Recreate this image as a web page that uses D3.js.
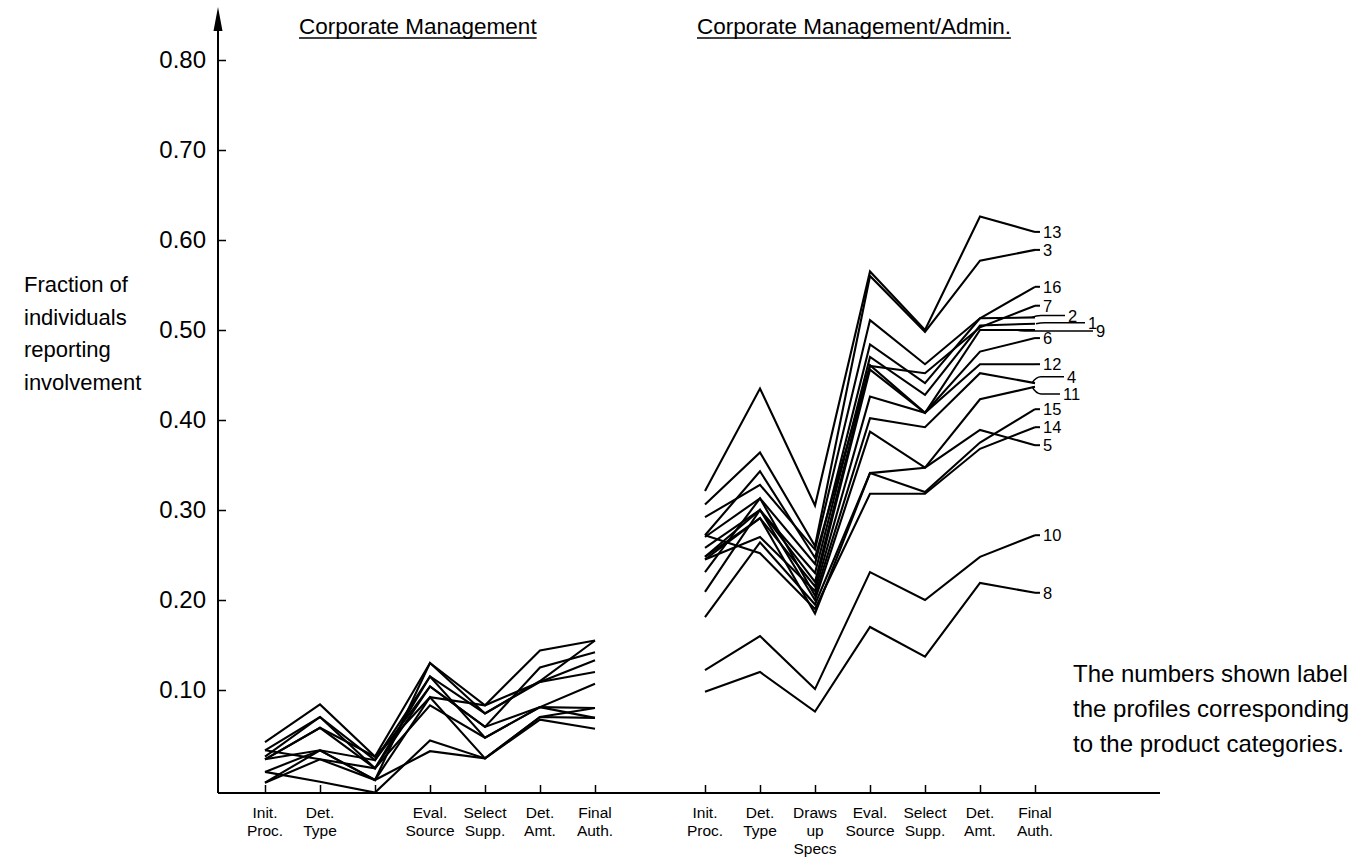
<!DOCTYPE html>
<html>
<head>
<meta charset="utf-8">
<script src="https://cdn.jsdelivr.net/npm/d3@7"></script>
<style>
  body { margin: 0; background: #fff; }
  svg { font-family: "Liberation Sans", Arial, sans-serif; }
</style>
</head>
<body>
<svg width="1369" height="867"></svg>
<script>
// stage names, '|' splits the lines of a label
const leftStages = ['Init.|Proc.', 'Det.|Type', '', 'Eval.|Source', 'Select|Supp.', 'Det.|Amt.', 'Final|Auth.'];
const rightStages = ['Init.|Proc.', 'Det.|Type', 'Draws|up|Specs', 'Eval.|Source', 'Select|Supp.', 'Det.|Amt.', 'Final|Auth.'];
const yTicks = [0.1, 0.2, 0.3, 0.4, 0.5, 0.6, 0.7, 0.8];

// Corporate Management (unlabelled profiles)
const leftProfiles = [
  [0.042, 0.084, 0.026, 0.130, 0.083, 0.144, 0.155],
  [0.033, 0.070, 0.022, 0.115, 0.074, 0.110, 0.155],
  [0.023, 0.058, 0.013, 0.104, 0.059, 0.125, 0.142],
  [0.023, 0.058, 0.026, 0.092, 0.083, 0.109, 0.133],
  [0.009, 0.033, 0.000, 0.130, 0.074, 0.109, 0.120],
  [0.033, 0.023, 0.013, 0.083, 0.047, 0.081, 0.107],
  [0.023, 0.033, 0.000, 0.092, 0.024, 0.070, 0.080],
  [-0.003, 0.033, 0.022, 0.104, 0.059, 0.081, 0.080],
  [0.009, -0.002, -0.014, 0.044, 0.024, 0.070, 0.069],
  [-0.003, 0.023, 0.000, 0.032, 0.024, 0.067, 0.057],
  [0.026, 0.070, 0.013, 0.115, 0.047, 0.081, 0.069]
];

// Corporate Management/Admin. (product category profiles)
const rightIds = ['13', '3', '16', '7', '2', '1', '9', '6', '12', '4', '11', '15', '14', '5', '10', '8'];
const rightProfiles = [
  [0.321, 0.435, 0.305, 0.565, 0.500, 0.626, 0.609],
  [0.306, 0.364, 0.260, 0.560, 0.498, 0.577, 0.589],
  [0.292, 0.328, 0.256, 0.511, 0.462, 0.513, 0.548],
  [0.272, 0.343, 0.247, 0.460, 0.452, 0.503, 0.527],
  [0.270, 0.313, 0.240, 0.484, 0.441, 0.513, 0.514],
  [0.258, 0.300, 0.230, 0.470, 0.428, 0.505, 0.507],
  [0.248, 0.300, 0.220, 0.461, 0.408, 0.500, 0.500],
  [0.248, 0.291, 0.215, 0.456, 0.408, 0.476, 0.491],
  [0.245, 0.270, 0.210, 0.426, 0.408, 0.462, 0.462],
  [0.231, 0.313, 0.205, 0.402, 0.392, 0.452, 0.441],
  [0.209, 0.300, 0.200, 0.387, 0.347, 0.423, 0.437],
  [0.181, 0.264, 0.195, 0.341, 0.320, 0.375, 0.412],
  [0.272, 0.252, 0.190, 0.318, 0.318, 0.368, 0.392],
  [0.245, 0.291, 0.185, 0.341, 0.347, 0.389, 0.372],
  [0.122, 0.160, 0.101, 0.231, 0.200, 0.248, 0.272],
  [0.098, 0.120, 0.076, 0.170, 0.137, 0.219, 0.208]
];

// labels that sit off their line end, joined by a short leader
const labelLeaders = {
  '2': { v: 0.516, from: 1036, to: 1065 },
  '1': { v: 0.508, from: 1040, to: 1085 },
  '9': { v: 0.499, from: 1020, to: 1093 },
  '4': { v: 0.448, from: 1036, to: 1064 },
  '11': { v: 0.429, from: 1036, to: 1060 }
};

const svg = d3.select('svg');
const x = d3.scaleLinear().domain([0, 14]).range([265, 1035]);
const y = d3.scaleLinear().domain([0, 0.8]).range([780, 60]);
const axisX = 218;
const baseY = 793;
const leftOffset = 0;
const rightOffset = 8;

// axes
svg.append('line')
  .attr('x1', axisX).attr('x2', axisX)
  .attr('y1', baseY).attr('y2', 24)
  .attr('stroke', '#000').attr('stroke-width', 2);
svg.append('path')
  .attr('d', `M${axisX},7 L${axisX - 4.5},31 L${axisX + 4.5},31 Z`)
  .attr('fill', '#000');
svg.append('line')
  .attr('x1', axisX).attr('x2', 1160)
  .attr('y1', baseY).attr('y2', baseY)
  .attr('stroke', '#000').attr('stroke-width', 2);

const yAxis = svg.append('g')
  .attr('transform', `translate(${axisX},0)`)
  .call(d3.axisLeft(y).tickValues(yTicks).tickFormat(d3.format('.2f'))
    .tickSizeInner(-8).tickSizeOuter(0).tickPadding(12));
yAxis.select('.domain').remove();
yAxis.selectAll('line').attr('stroke-width', 1.5);
yAxis.selectAll('text')
  .attr('font-size', 24)
  .attr('font-family', '"Liberation Sans", Arial, sans-serif')
  .attr('fill', '#000');

const stagePos = d3.range(7).map(i => i + leftOffset).concat(d3.range(7).map(i => i + rightOffset));
const xAxis = svg.append('g')
  .attr('transform', `translate(0,${baseY})`)
  .call(d3.axisBottom(x).tickValues(stagePos).tickFormat('')
    .tickSizeInner(-8).tickSizeOuter(0));
xAxis.select('.domain').remove();
xAxis.selectAll('line').attr('stroke-width', 1.5);

const stageLabels = leftStages.map((s, i) => ({ s, p: i + leftOffset }))
  .concat(rightStages.map((s, i) => ({ s, p: i + rightOffset })));
const labelG = svg.append('g').attr('font-size', 15.5).attr('text-anchor', 'middle');
stageLabels.forEach((d) => {
  const t = labelG.append('text').attr('x', x(d.p)).attr('y', 818);
  d.s.split('|').filter(s => s).forEach((line, i) => {
    t.append('tspan').attr('x', x(d.p)).attr('dy', i === 0 ? 0 : 18).text(line);
  });
});

// profiles
const line = offset => d3.line().x((d, i) => x(offset + i)).y(d => y(d));

svg.append('g')
  .selectAll('path')
  .data(leftProfiles)
  .join('path')
  .attr('d', line(leftOffset))
  .attr('fill', 'none')
  .attr('stroke', '#000')
  .attr('stroke-width', 2.1);

svg.append('g')
  .selectAll('path')
  .data(rightProfiles)
  .join('path')
  .attr('d', line(rightOffset))
  .attr('fill', 'none')
  .attr('stroke', '#000')
  .attr('stroke-width', 2.1);

// profile numbers
const numG = svg.append('g').attr('font-size', 16.5);
rightProfiles.forEach((vals, i) => {
  const id = rightIds[i];
  const endX = x(rightOffset + 6);
  const endV = vals[6];
  const lead = labelLeaders[id];
  if (lead) {
    svg.append('path')
      .attr('d', `M${lead.from - 4},${y(endV)} Q${lead.from},${y(lead.v)} ${lead.from + 5},${y(lead.v)} L${lead.to},${y(lead.v)}`)
      .attr('fill', 'none')
      .attr('stroke', '#000')
      .attr('stroke-width', 1.5);
    numG.append('text')
      .attr('x', lead.to + 3)
      .attr('y', y(lead.v))
      .attr('dy', '0.36em')
      .text(id);
  } else {
    svg.append('line')
      .attr('x1', endX).attr('x2', endX + 5)
      .attr('y1', y(endV)).attr('y2', y(endV))
      .attr('stroke', '#000').attr('stroke-width', 2);
    numG.append('text')
      .attr('x', endX + 8)
      .attr('y', y(endV))
      .attr('dy', '0.36em')
      .text(id);
  }
});

// panel titles, underlined
[{ t: 'Corporate Management', x: 299 }, { t: 'Corporate Management/Admin.', x: 697 }].forEach((d) => {
  const txt = svg.append('text')
    .attr('x', d.x).attr('y', 34)
    .attr('font-size', 22.5)
    .text(d.t);
  const w = txt.node().getComputedTextLength();
  svg.append('line')
    .attr('x1', d.x).attr('x2', d.x + w)
    .attr('y1', 38).attr('y2', 38)
    .attr('stroke', '#000').attr('stroke-width', 1.3);
});

// y title
const yTitle = svg.append('text').attr('font-size', 22).attr('x', 24);
['Fraction of', 'individuals', 'reporting', 'involvement'].forEach((s, i) => {
  yTitle.append('tspan').attr('x', 24).attr('y', 292 + i * 32.7).text(s);
});

// note
const note = svg.append('text').attr('font-size', 24).attr('x', 1073);
['The numbers shown label', 'the profiles corresponding', 'to the product categories.'].forEach((s, i) => {
  note.append('tspan').attr('x', 1073).attr('y', 682 + i * 35).text(s);
});
</script>
</body>
</html>
